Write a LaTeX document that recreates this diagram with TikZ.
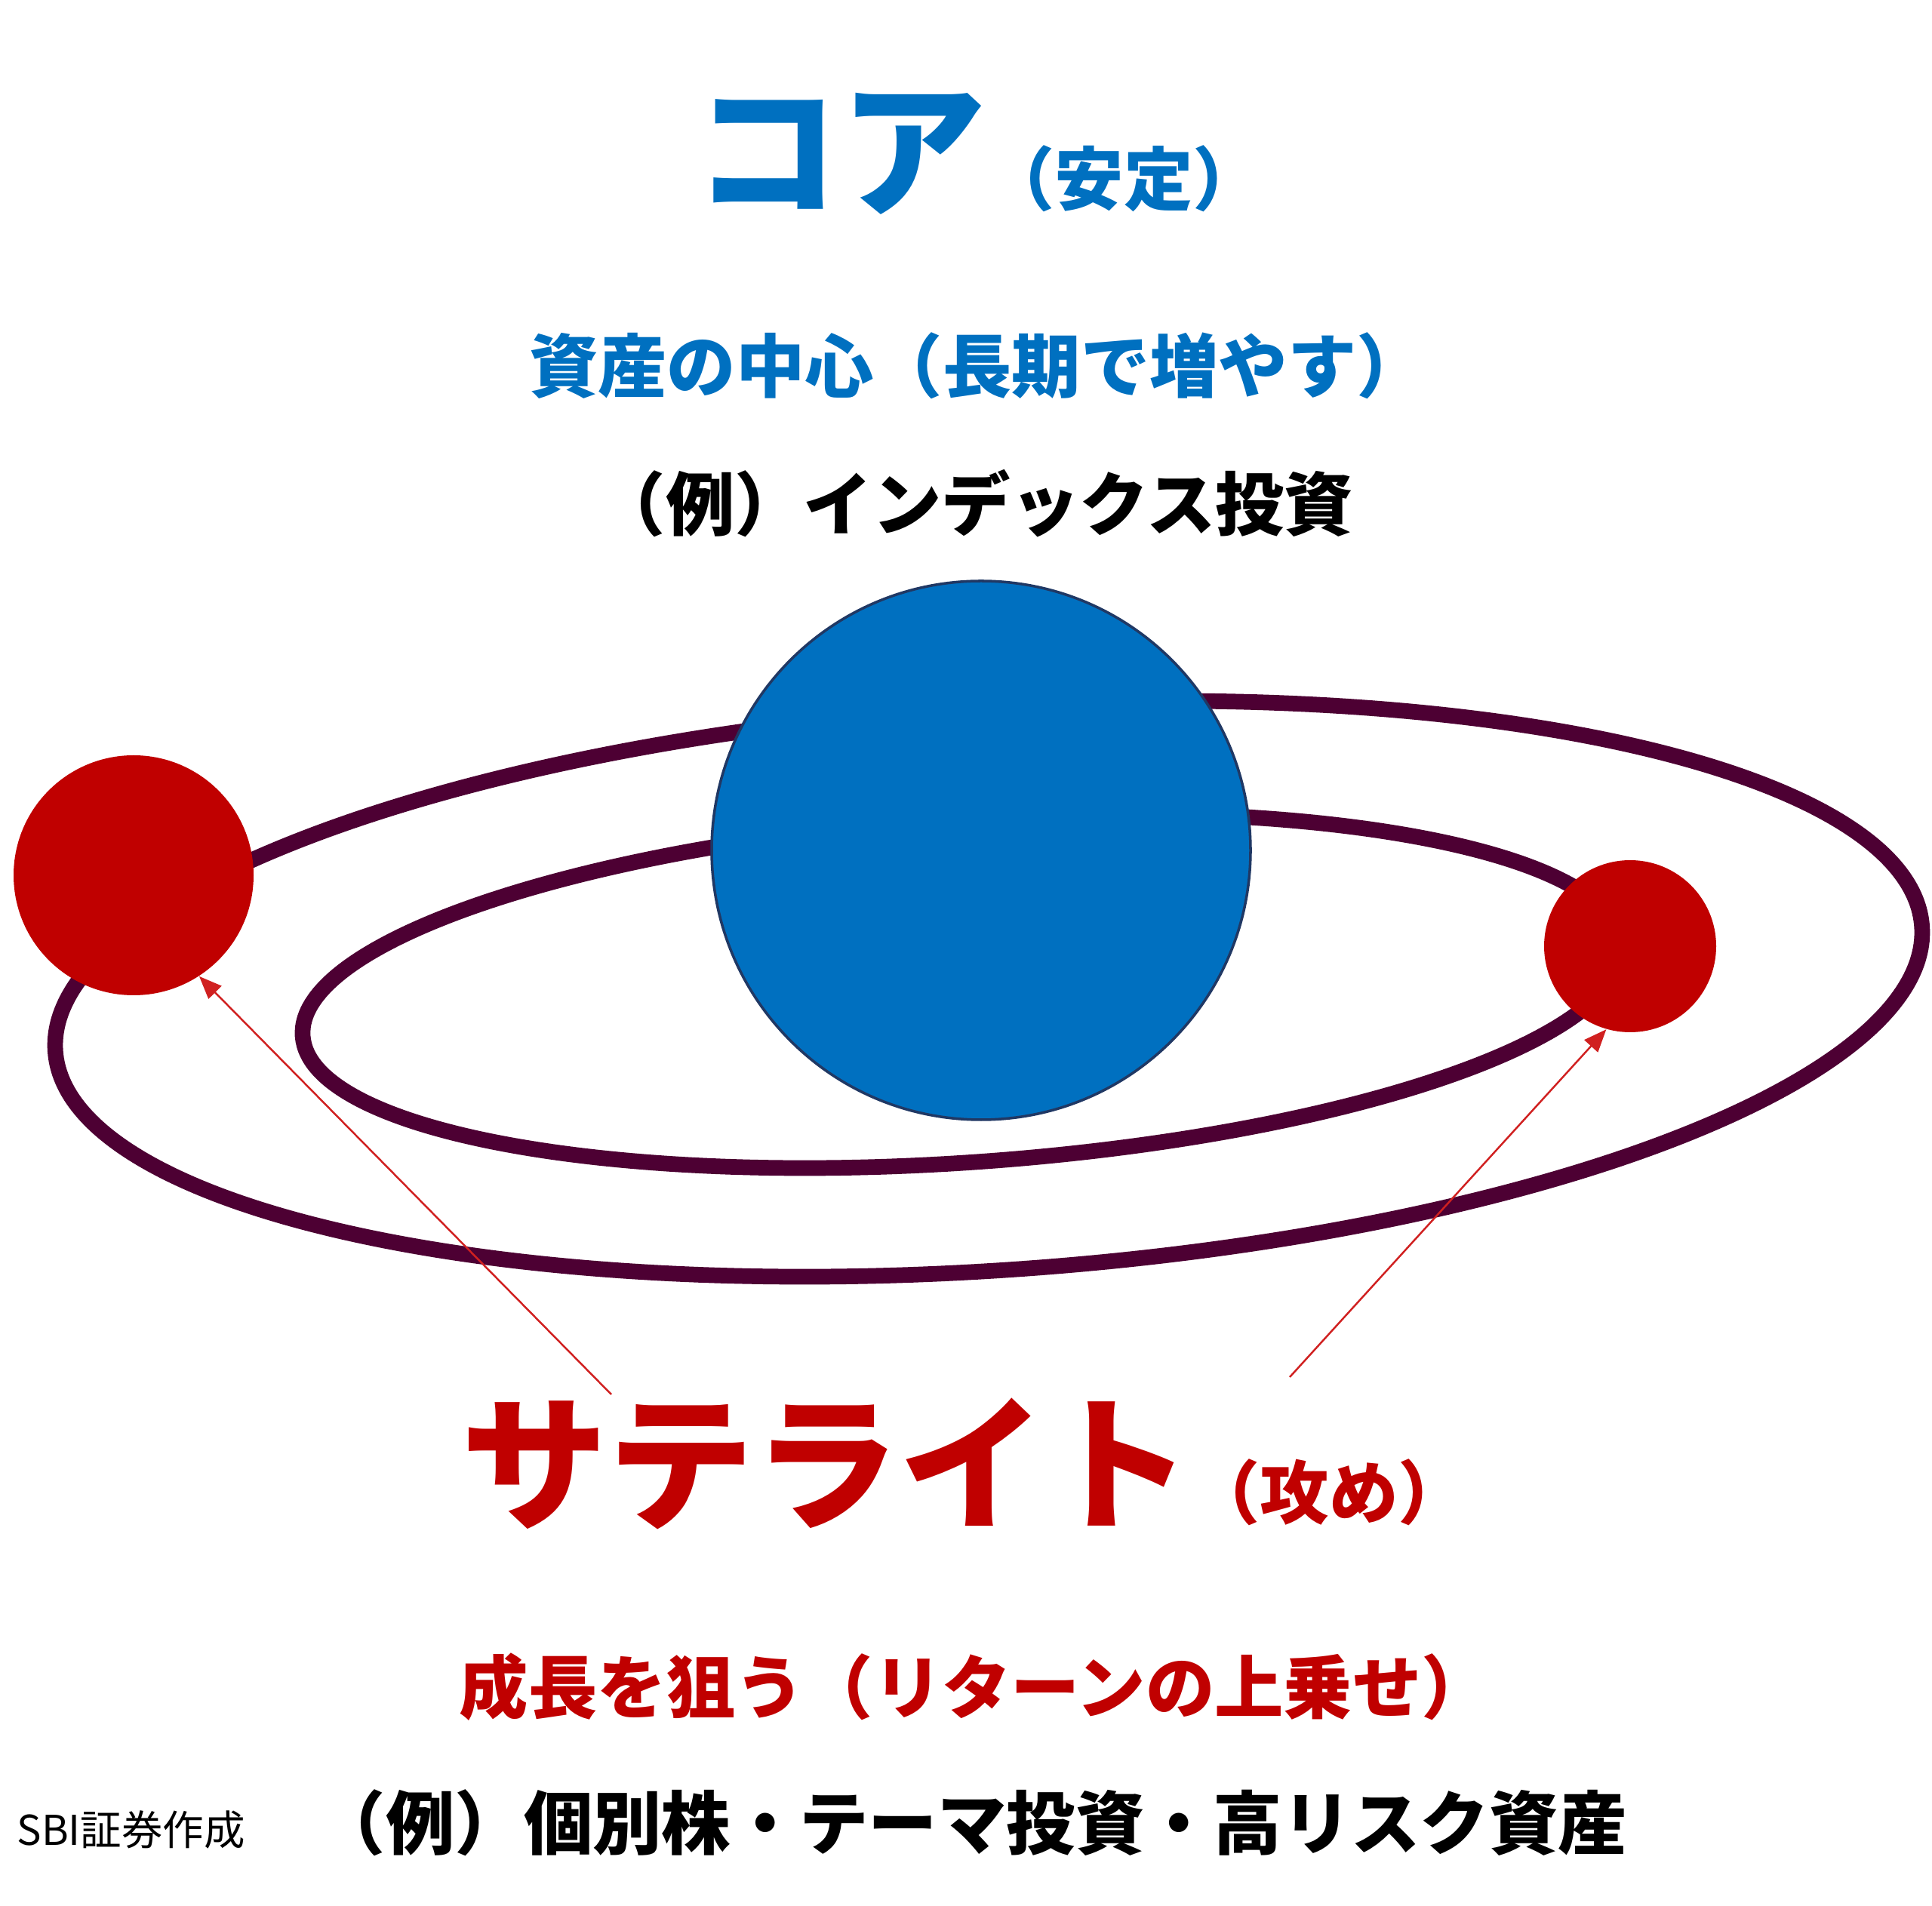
\documentclass[tikz,border=0pt]{standalone}
\usepackage{fontspec}
\setmainfont{Noto Sans CJK JP}
\usetikzlibrary{arrows.meta}
\definecolor{coreblue}{HTML}{0070C0}
\definecolor{satred}{HTML}{C00000}
\definecolor{orbitcol}{HTML}{4D0033}
\definecolor{rimblue}{HTML}{203864}
\definecolor{pointred}{HTML}{D02020}
\begin{document}
\begin{tikzpicture}[
    orbit/.style={draw=orbitcol, line width=5.9pt},
    planet/.style={circle, inner sep=0pt},
    pointer/.style={draw=pointred, line width=0.7pt, -{Triangle[length=3mm,width=2.4mm]}},
    headline/.style={anchor=base, inner sep=0pt, font=\bfseries},
    caption/.style={anchor=base, inner sep=0pt, font=\fontsize{26}{30}\selectfont\bfseries}
]
    \useasboundingbox (0,0) rectangle (25.6,25.25);
    % orbits
    \draw[orbit, rotate around={3.81:(13.10,12.145)}] (13.10,12.145) ellipse [x radius=12.395, y radius=3.733];
    \draw[orbit, rotate around={3.93:(12.75,12.12)}] (12.75,12.12) ellipse [x radius=8.76, y radius=2.277];
    % planets
    \node[planet, fill=coreblue, draw=rimblue, line width=1pt, minimum size=7.14cm] (core) at (13.00,13.98) {};
    \node[planet, fill=satred, minimum size=3.18cm] (satL) at (1.77,13.65) {};
    \node[planet, fill=satred, minimum size=2.28cm] (satR) at (21.60,12.71) {};
    % core texts
    \node[headline, text=coreblue] (coretitle) at (12.96,22.53)
        {{\fontsize{55}{60}\selectfont コア}{\fontsize{26}{30}\selectfont （安定）}};
    \node[caption, text=coreblue] (corerole) at (12.95,20.05) {資産の中心（長期で増やす）};
    \node[caption] (coreex) at (12.92,18.22) {（例）インデックス投資};
    % satellite texts
    \node[headline, text=satred] (sattitle) at (12.78,5.12)
        {{\fontsize{55}{60}\selectfont サテライト}{\fontsize{26}{30}\selectfont （攻め）}};
    \node[caption, text=satred] (satrole) at (12.92,2.55) {成長を狙う（リターンの上乗せ）};
    \node[caption] (satex) at (12.88,0.75) {（例）個別株・テーマ投資・高リスク資産};
    \node[anchor=base west, inner sep=0pt, font=\fontsize{15.5}{18}\selectfont] (credit) at (0.22,0.80) {SBI証券作成};
    % pointers
    \coordinate (lstart) at (8.10,6.77);
    \coordinate (rstart) at (17.09,7.00);
    \draw[pointer] (lstart) -- (satL.-57);
    \draw[pointer] (rstart) -- (satR.-106);
\end{tikzpicture}
\end{document}
